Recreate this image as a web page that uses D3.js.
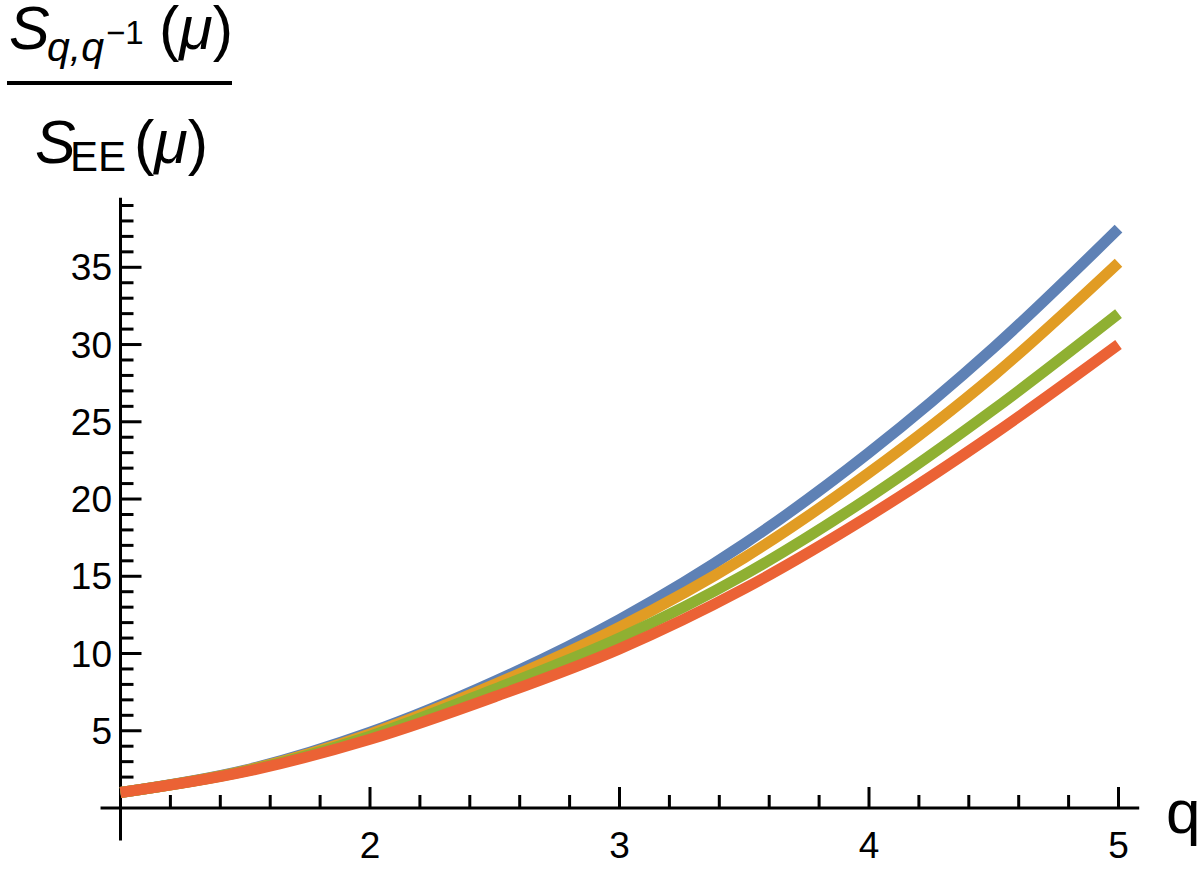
<!DOCTYPE html><html>
<head>
    <meta charset="utf-8">
    <style>
        body { margin: 0; background: #fff; }
        svg text { font-family: "Liberation Sans", Arial, sans-serif; fill: #000; }
    </style>
</head>
<body>
    <script src="https://d3js.org/d3.v7.min.js"></script>
    <script>
        // values
        var qValues = [1, 1.5, 2, 2.5, 3, 3.5, 4, 4.5, 5];
        var blueSeries = [1, 2.45, 4.9, 8.2, 12.2, 17.1, 23.0, 29.8, 37.5];
        var orangeSeries = [1, 2.42, 4.8, 8.0, 11.7, 16.2, 21.7, 28.0, 35.3];
        var greenSeries = [1, 2.38, 4.65, 7.7, 11.0, 15.1, 20.1, 25.8, 32.0];
        var redSeries = [1, 2.35, 4.45, 7.2, 10.3, 14.2, 18.9, 24.2, 30.0];
        var seriesColors = ["#5E81B5", "#E19C24", "#8FB032", "#EB6235"];
        var xTickLabels = [2, 3, 4, 5];
        var yTickLabels = [5, 10, 15, 20, 25, 30, 35];

        var width = 1204,
            height = 873;

        var x = d3.scaleLinear().domain([1, 5]).range([120.5, 1118.5]);
        var y = d3.scaleLinear().domain([0, 39]).range([808, 205.5]);

        var svg = d3.select('body')
            .append("svg")
            .attr("width", width)
            .attr("height", height);

        // axes lines
        svg.append("line")
            .attr("x1", x(0.92)).attr("x2", x(5.083))
            .attr("y1", y(0)).attr("y2", y(0))
            .attr("stroke", "#000").attr("stroke-width", 3);
        svg.append("line")
            .attr("x1", x(1)).attr("x2", x(1))
            .attr("y1", y(-2.1)).attr("y2", y(39.5))
            .attr("stroke", "#000").attr("stroke-width", 3);

        // x ticks, drawn upward
        var xMinor = d3.range(6, 26).map(function (d) { return d / 5; });
        svg.selectAll(".xtick")
            .data(xMinor)
            .enter().append("line")
            .attr("class", "xtick")
            .attr("x1", function (d) { return x(d); })
            .attr("x2", function (d) { return x(d); })
            .attr("y1", y(0))
            .attr("y2", function (d) { return y(0) - (Math.abs(d - Math.round(d)) < 1e-6 ? 21 : 13); })
            .attr("stroke", "#000").attr("stroke-width", 3);

        svg.selectAll(".xlabel")
            .data(xTickLabels)
            .enter().append("text")
            .attr("class", "xlabel")
            .attr("x", function (d) { return x(d); })
            .attr("y", 858)
            .attr("text-anchor", "middle")
            .attr("font-size", 37)
            .text(function (d) { return d; });

        // y ticks, drawn to the right
        var yMinor = d3.range(1, 40);
        svg.selectAll(".ytick")
            .data(yMinor)
            .enter().append("line")
            .attr("class", "ytick")
            .attr("x1", x(1))
            .attr("x2", function (d) { return x(1) + (d % 5 === 0 ? 21 : 13); })
            .attr("y1", function (d) { return y(d); })
            .attr("y2", function (d) { return y(d); })
            .attr("stroke", "#000").attr("stroke-width", 3);

        svg.selectAll(".ylabel")
            .data(yTickLabels)
            .enter().append("text")
            .attr("class", "ylabel")
            .attr("x", 112)
            .attr("y", function (d) { return y(d) + 13; })
            .attr("text-anchor", "end")
            .attr("font-size", 37)
            .text(function (d) { return d; });

        // curves
        var allSeries = [blueSeries, orangeSeries, greenSeries, redSeries];
        var line = d3.line()
            .x(function (d, i) { return x(qValues[i]); })
            .y(function (d) { return y(d); })
            .curve(d3.curveMonotoneX);

        svg.selectAll(".curve")
            .data(allSeries)
            .enter().append("path")
            .attr("class", "curve")
            .attr("fill", "none")
            .attr("stroke", function (d, i) { return seriesColors[i]; })
            .attr("stroke-width", 11)
            .attr("stroke-linecap", "butt")
            .attr("d", line);

        // axis label q
        svg.append("text")
            .attr("x", 1166)
            .attr("y", 833)
            .attr("font-size", 62)
            .text("q");

        // y axis label: fraction
        var num = svg.append("text").attr("font-size", 61);
        num.append("tspan").attr("x", 9).attr("y", 49).attr("font-style", "italic").text("S");
        num.append("tspan").attr("x", 47).attr("y", 61).attr("font-size", 41).attr("font-style", "italic").text("q,q");
        num.append("tspan").attr("x", 106).attr("y", 44).attr("font-size", 33).text("\u22121");
        num.append("tspan").attr("x", 159).attr("y", 49).text("(");
        num.append("tspan").attr("font-style", "italic").text("\u03bc");
        num.append("tspan").text(")");

        svg.append("rect")
            .attr("x", 7).attr("y", 81)
            .attr("width", 225).attr("height", 4)
            .attr("fill", "#000");

        var den = svg.append("text").attr("font-size", 61);
        den.append("tspan").attr("x", 35).attr("y", 163).attr("font-style", "italic").text("S");
        den.append("tspan").attr("x", 70).attr("y", 171).attr("font-size", 42).text("EE");
        den.append("tspan").attr("x", 134).attr("y", 163).text("(");
        den.append("tspan").attr("font-style", "italic").text("\u03bc");
        den.append("tspan").text(")");
    </script>
</body></html>
